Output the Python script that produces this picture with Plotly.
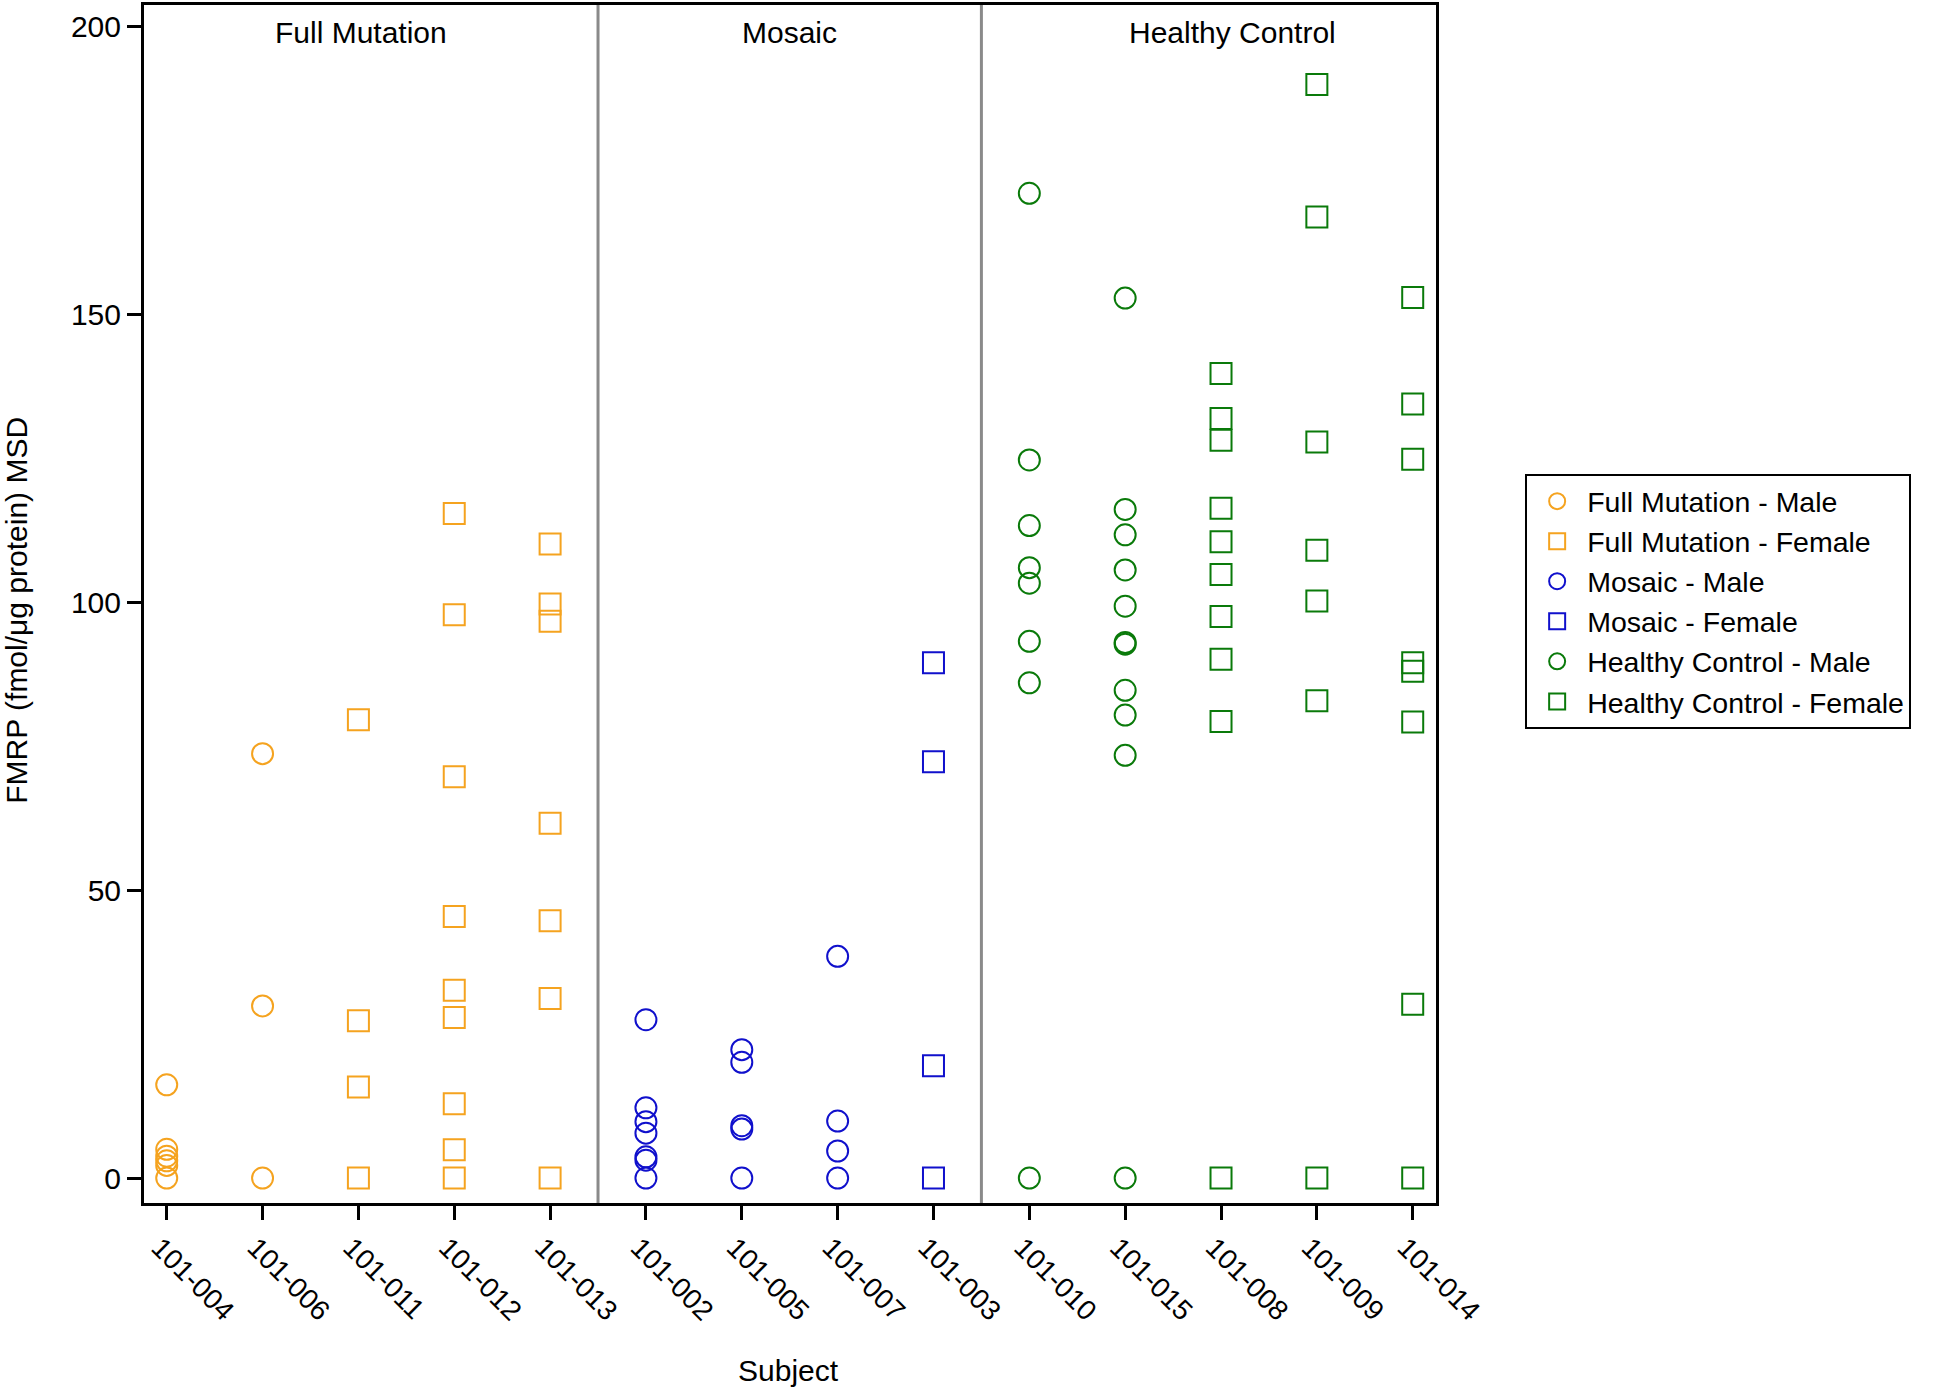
import plotly.graph_objects as go

subjects = ["101-004", "101-006", "101-011", "101-012", "101-013",
            "101-002", "101-005", "101-007", "101-003",
            "101-010", "101-015", "101-008", "101-009", "101-014"]

fm_male = {
    "101-004": [16.2, 5.0, 3.8, 3.0, 2.2, 0.0],
    "101-006": [73.7, 29.9, 0.0],
}
fm_female = {
    "101-011": [79.6, 27.3, 15.8, 0.0],
    "101-012": [115.4, 97.8, 69.7, 45.4, 32.6, 27.9, 12.9, 4.9, 0.0],
    "101-013": [110.1, 99.7, 96.7, 61.6, 44.7, 31.2, 0.0],
}
mos_male = {
    "101-002": [27.5, 12.2, 9.8, 7.8, 3.7, 3.1, 0.0],
    "101-005": [22.3, 20.1, 9.1, 8.5, 0.0],
    "101-007": [38.5, 9.9, 4.7, 0.0],
}
mos_female = {
    "101-003": [89.5, 72.3, 19.5, 0.0],
}
hc_male = {
    "101-010": [171.0, 124.7, 113.3, 106.0, 103.3, 93.2, 86.0, 0.0],
    "101-015": [152.8, 116.1, 111.7, 105.6, 99.3, 93.0, 92.7, 84.7, 80.4, 73.4, 0.0],
}
hc_female = {
    "101-008": [139.7, 131.9, 128.1, 116.3, 110.5, 104.8, 97.5, 90.1, 79.3, 0.0],
    "101-009": [189.9, 166.9, 127.8, 109.0, 100.2, 82.9, 0.0],
    "101-014": [152.9, 134.4, 124.8, 89.5, 88.0, 79.2, 30.2, 0.0],
}

series = [
    ("Full Mutation - Male", fm_male, "circle-open", "#F5A31F"),
    ("Full Mutation - Female", fm_female, "square-open", "#F5A31F"),
    ("Mosaic - Male", mos_male, "circle-open", "#1010CC"),
    ("Mosaic - Female", mos_female, "square-open", "#1010CC"),
    ("Healthy Control - Male", hc_male, "circle-open", "#0A7A0A"),
    ("Healthy Control - Female", hc_female, "square-open", "#0A7A0A"),
]

group_titles = ["Full Mutation", "Mosaic", "Healthy Control"]
group_title_pos = [2.03, 6.5, 11.12]
separators = [4.5, 8.5]

FONT = "Liberation Sans, Arial, Helvetica, sans-serif"

fig = go.Figure()
for name, d, sym, col in series:
    xs, ys = [], []
    for subj, vals in d.items():
        for v in vals:
            xs.append(subj)
            ys.append(v)
    fig.add_trace(go.Scatter(
        x=xs, y=ys, mode="markers", name=name,
        marker=dict(symbol=sym, size=21, color=col, line=dict(width=2, color=col)),
    ))

for s in separators:
    fig.add_shape(type="line", xref="x", yref="paper", x0=s, x1=s, y0=0, y1=1,
                  line=dict(color="#8a8a8a", width=3), layer="below")

for t, p in zip(group_titles, group_title_pos):
    fig.add_annotation(x=p, y=0.977, xref="x", yref="paper", text=t, showarrow=False,
                       xanchor="center", yanchor="middle",
                       font=dict(size=30, color="black", family=FONT))

fig.add_annotation(x=-0.0985, y=0.495, xref="paper", yref="paper",
                   text="FMRP (fmol/μg protein) MSD", textangle=-90, showarrow=False,
                   xanchor="center", yanchor="middle",
                   font=dict(size=30, color="black", family=FONT))
fig.add_annotation(x=0.499, y=-0.14, xref="paper", yref="paper", text="Subject",
                   showarrow=False, xanchor="center", yanchor="middle",
                   font=dict(size=30, color="black", family=FONT))

fig.update_layout(
    width=1946, height=1390,
    margin=dict(l=144, r=510, t=2, b=187),
    paper_bgcolor="white", plot_bgcolor="white",
    font=dict(family=FONT, size=30, color="black"),
    showlegend=True,
    legend=dict(x=1.069, y=0.502, xanchor="left", yanchor="middle",
                bordercolor="black", borderwidth=2, font=dict(size=28.5),
                tracegroupgap=0, itemwidth=50),
    xaxis=dict(type="category", categoryorder="array", categoryarray=subjects,
               range=[-0.237, 13.243], showgrid=False, zeroline=False,
               showline=True, linecolor="black", linewidth=3, mirror=True,
               ticks="outside", ticklen=14, tickwidth=3, tickcolor="black",
               tickangle=45, tickfont=dict(size=28), ticklabelshift=-7),
    yaxis=dict(range=[-4.33, 203.7], showgrid=False, zeroline=False,
               showline=True, linecolor="black", linewidth=3, mirror=True,
               ticks="outside", ticklen=14, tickwidth=3, tickcolor="black",
               tickvals=[0, 50, 100, 150, 200], tickfont=dict(size=30)),
)

fig.write_html("out.html", config={"displayModeBar": False},
               post_script="document.body.style.margin='0';")
